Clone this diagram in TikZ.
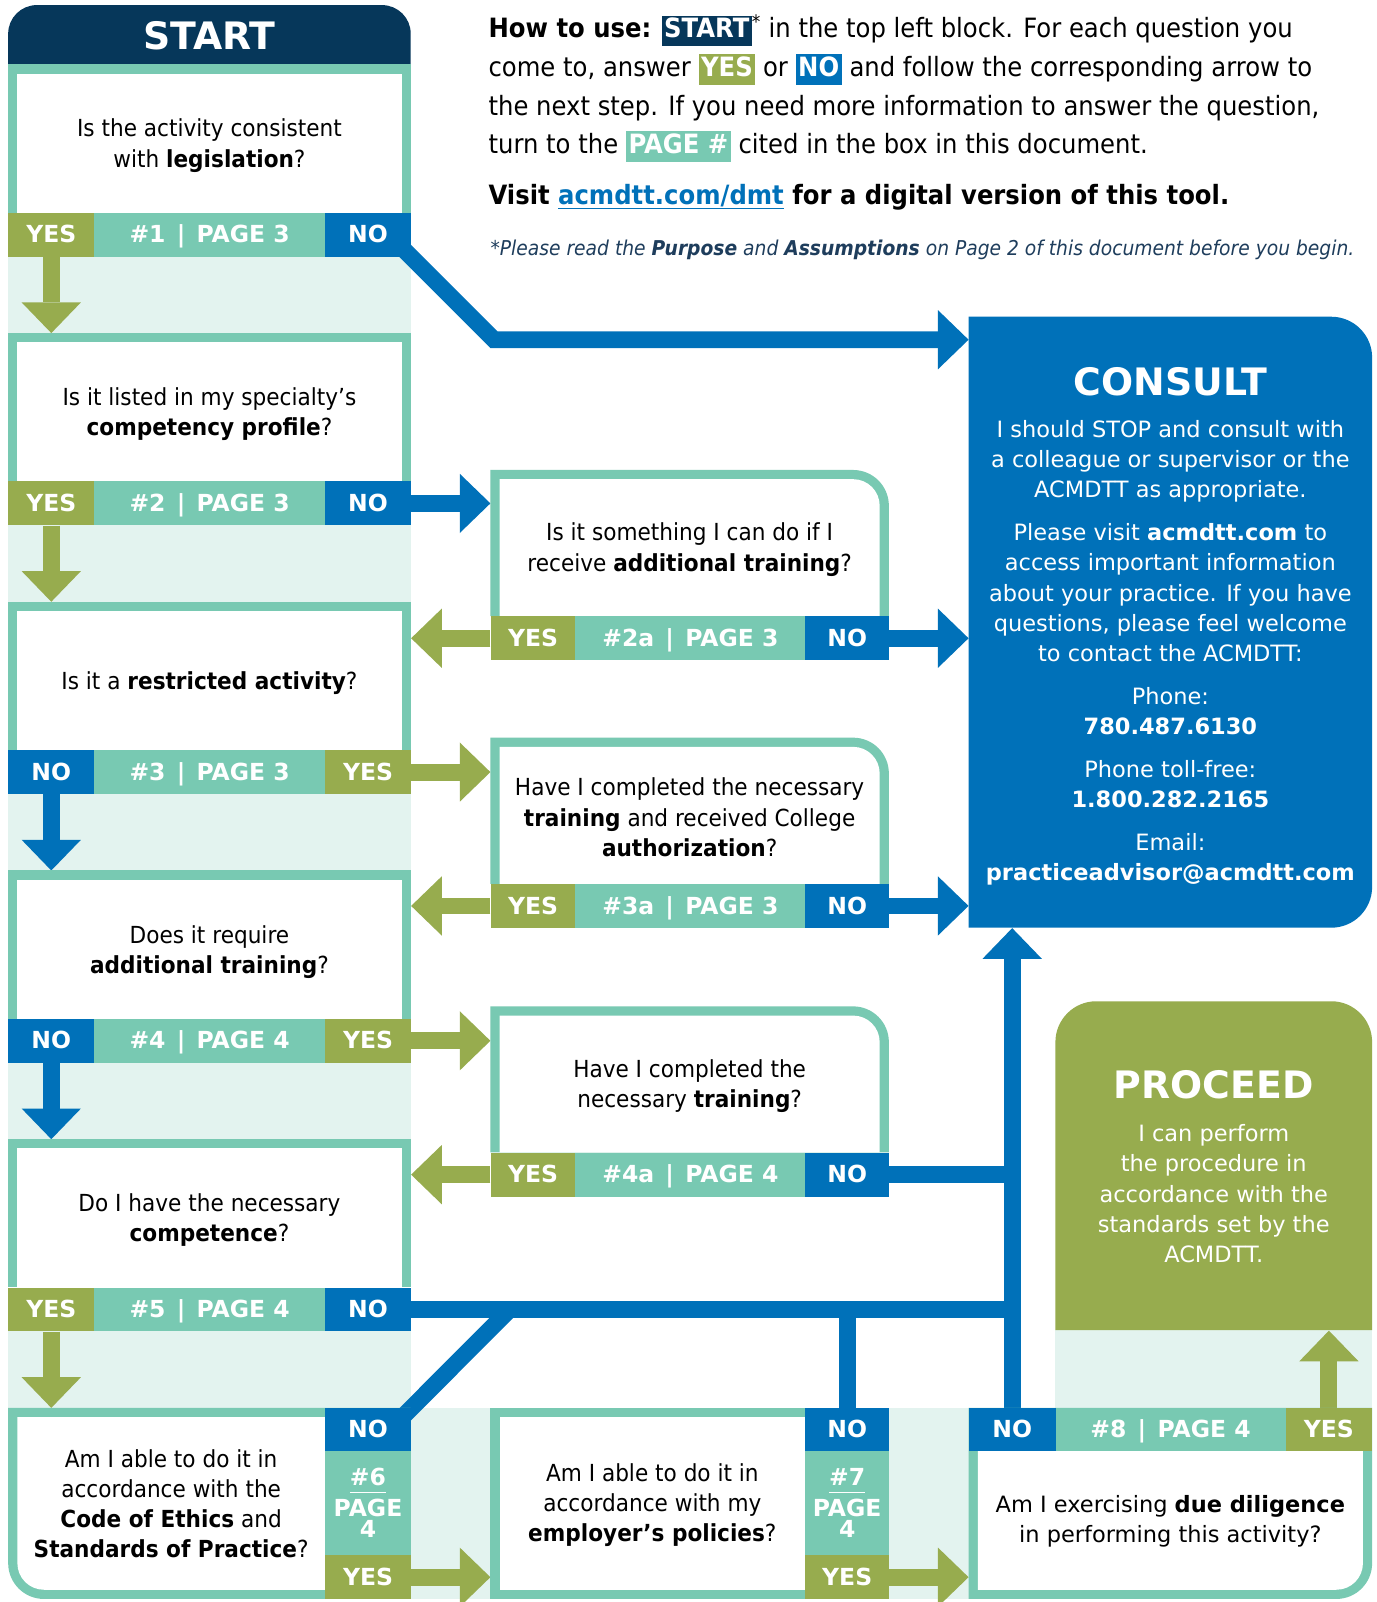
\documentclass[tikz,border=0pt]{standalone}
\usepackage{fontspec}
\setmainfont{DejaVu Sans}
\newfontfamily\qfont[FakeStretch=0.92]{DejaVu Sans}
\newfontfamily\hfont[FakeStretch=0.915]{DejaVu Sans}
\usetikzlibrary{arrows.meta}
\definecolor{cnavy}{HTML}{06375A}
\definecolor{cteal}{HTML}{78C9B2}
\definecolor{clight}{HTML}{E3F3EF}
\definecolor{cgreen}{HTML}{97AC4E}
\definecolor{cblue}{HTML}{0071B9}
\definecolor{cnote}{HTML}{1E3D5C}
\pgfdeclarelayer{back}
\pgfdeclarelayer{conn}
\pgfsetlayers{back,conn,main}
\newcommand\tagbox[2]{{\setlength\fboxsep{2.5pt}\colorbox{#1}{\textcolor{white}{\bfseries\vphantom{Ag}#2}}}}
\newcommand\lab[2]{#1\hspace{11pt}|\hspace{11pt}#2}
\tikzset{
 cellbase/.style={anchor=north west, inner sep=0pt, minimum height=43pt, text=white, font=\fontsize{23}{26}\selectfont\bfseries},
 cell/.style={cellbase, text height=18pt, text depth=2pt},
 frame/.style={anchor=north west, inner sep=0pt, draw=none},
 qtext/.style={align=center, font=\qfont\fontsize{23}{29.5}\selectfont, text=black},
 garr/.style={draw=cgreen, line width=16.5pt, -{Triangle[length=30pt,width=58pt,line width=0pt]}},
 barr/.style={draw=cblue, line width=16.5pt, -{Triangle[length=30pt,width=58pt,line width=0pt]}},
 bline/.style={draw=cblue, line width=16.5pt},
 wtext/.style={align=center, text=white, font=\fontsize{22}{29.7}\selectfont},
 ttl/.style={text=white, font=\fontsize{37}{40}\selectfont\bfseries},
 hline/.style={anchor=base west, inner sep=0pt, font=\hfont\fontsize{26}{30}\selectfont},
}
% left column question box: id, top, left colour, left text, label, right colour, right text, question
\newcommand\leftq[8]{%
  \node[frame, minimum width=394pt, minimum height=188pt] (#1f) at (8,#2) {};
  \fill[cteal] (8,#2) rectangle (402,#2+145);
  \fill[white] (17,#2+9) rectangle (393,#2+145);
  \node[cell, fill=#3, minimum width=84pt] (#1l) at (8,#2+145) {#4};
  \node[cell, fill=cteal, minimum width=226pt] (#1c) at (92,#2+145) {#5};
  \node[cell, fill=#6, minimum width=84pt] (#1r) at (318,#2+145) {#7};
  \node[qtext] (#1q) at (205,#2+79.5) {#8};
}
% middle column question box: id, top, label, question
\newcommand\midq[4]{%
  \node[frame, minimum width=390pt, minimum height=185pt] (#1f) at (480,#2) {};
  \fill[cteal] (480,#2+143) -- (480,#2) -- (835,#2) arc[start angle=-90,end angle=0,radius=35] -- (870,#2+143) -- cycle;
  \fill[white] (489,#2+143) -- (489,#2+9) -- (835,#2+9) arc[start angle=-90,end angle=0,radius=26] -- (861,#2+143) -- cycle;
  \node[cell, fill=cgreen, minimum width=83pt] (#1l) at (480,#2+143) {YES};
  \node[cell, fill=cteal, minimum width=225pt] (#1c) at (563,#2+143) {#3};
  \node[cell, fill=cblue, minimum width=82pt] (#1r) at (788,#2+143) {NO};
  \node[qtext] (#1q) at (675,#2+78) {#4};
}
\begin{document}
\begin{tikzpicture}[x=1pt,y=-1pt]
\useasboundingbox (0,0) rectangle (1347,1568);
\begin{pgfonlayer}{back}
\fill[white] (0,0) rectangle (1347,1568);
\foreach \t in {63,326,589,852,1115} \fill[clight] (8,\t+188) rectangle (402,\t+263);
\fill[clight] (402,1378) rectangle (948,1565);
\fill[clight] (1033,1302) rectangle (1343,1378);
\end{pgfonlayer}

% header
\fill[cnavy] (8,63) -- (8,33) arc[start angle=180,end angle=270,radius=28] -- (374,5) arc[start angle=270,end angle=360,radius=28] -- (402,63) -- cycle;
\node[ttl] (start) at (205,35) {START};

% left column
\leftq{b1}{63}{cgreen}{YES}{\lab{\#1}{PAGE 3}}{cblue}{NO}{Is the activity consistent\\with \textbf{legislation}?}
\leftq{b2}{326}{cgreen}{YES}{\lab{\#2}{PAGE 3}}{cblue}{NO}{Is it listed in my specialty’s\\\textbf{competency profile}?}
\leftq{b3}{589}{cblue}{NO}{\lab{\#3}{PAGE 3}}{cgreen}{YES}{Is it a \textbf{restricted activity}?}
\leftq{b4}{852}{cblue}{NO}{\lab{\#4}{PAGE 4}}{cgreen}{YES}{Does it require\\\textbf{additional training}?}
\leftq{b5}{1115}{cgreen}{YES}{\lab{\#5}{PAGE 4}}{cblue}{NO}{Do I have the necessary\\\textbf{competence}?}

% middle column
\midq{a2}{460}{\lab{\#2a}{PAGE 3}}{Is it something I can do if I\\receive \textbf{additional training}?}
\midq{a3}{722}{\lab{\#3a}{PAGE 3}}{Have I completed the necessary\\\textbf{training} and received College\\\textbf{authorization}?}
\midq{a4}{985}{\lab{\#4a}{PAGE 4}}{Have I completed the\\necessary \textbf{training}?}

% box 6
\node[frame, minimum width=394pt, minimum height=187pt] (b6f) at (8,1378) {};
\fill[cteal] (8,1378) -- (402,1378) -- (402,1565) -- (43,1565) arc[start angle=90,end angle=180,radius=35] -- cycle;
\fill[white] (17,1387) -- (318,1387) -- (318,1556) -- (43,1556) arc[start angle=90,end angle=180,radius=26] -- cycle;
\node[cell, fill=cblue, minimum width=84pt, minimum height=42pt] (c6n) at (318,1378) {NO};
\node[cellbase, fill=cteal, minimum width=84pt, minimum height=102pt, align=center] (c6p) at (318,1420) {\underline{\#6\vphantom{g}}\\[4pt]PAGE\\[-5pt]4};
\node[cell, fill=cgreen, minimum width=84pt, minimum height=43pt] (c6y) at (318,1522) {YES};
\node[qtext] (b6q) at (167.5,1472) {Am I able to do it in\\accordance with the\\\textbf{Code of Ethics} and\\\textbf{Standards of Practice}?};

% box 7
\node[frame, minimum width=390pt, minimum height=187pt] (f7) at (480,1378) {};
\fill[cteal] (480,1378) rectangle (870,1565);
\fill[white] (489,1387) rectangle (788,1556);
\node[cell, fill=cblue, minimum width=82pt, minimum height=42pt] (c7n) at (788,1378) {NO};
\node[cellbase, fill=cteal, minimum width=82pt, minimum height=102pt, align=center] (c7p) at (788,1420) {\underline{\#7\vphantom{g}}\\[4pt]PAGE\\[-5pt]4};
\node[cell, fill=cgreen, minimum width=82pt, minimum height=43pt] (c7y) at (788,1522) {YES};
\node[qtext] (b7q) at (638.5,1473) {Am I able to do it in\\accordance with my\\\textbf{employer’s policies}?};

% box 8
\node[frame, minimum width=395pt, minimum height=187pt] (f8) at (948,1378) {};
\fill[cteal] (948,1378) -- (1343,1378) -- (1343,1530) arc[start angle=0,end angle=90,radius=35] -- (948,1565) -- cycle;
\fill[white] (957,1420) -- (1334,1420) -- (1334,1530) arc[start angle=0,end angle=90,radius=26] -- (957,1556) -- cycle;
\node[cell, fill=cblue, minimum width=85pt, minimum height=42pt] (c8n) at (948,1378) {NO};
\node[cell, fill=cteal, minimum width=225pt, minimum height=42pt] (c8c) at (1033,1378) {\lab{\#8}{PAGE 4}};
\node[cell, fill=cgreen, minimum width=85pt, minimum height=42pt] (c8y) at (1258,1378) {YES};
\node[align=center, font=\fontsize{22}{29.7}\selectfont] (b8q) at (1145.5,1489) {Am I exercising \textbf{due diligence}\\in performing this activity?};

% consult
\node[frame, minimum width=395pt, minimum height=598pt] (consult) at (948,310) {};
\fill[cblue] (948,310) -- (1303,310) arc[start angle=-90,end angle=0,radius=40] -- (1343,868) arc[start angle=0,end angle=90,radius=40] -- (948,908) -- cycle;
\node[ttl] (ctitle) at (1145.5,374) {CONSULT};
\node[wtext] (cbody) at (1145.5,639) {I should STOP and consult with\\a colleague or supervisor or the\\ACMDTT as appropriate.\\[12pt]Please visit \textbf{acmdtt.com} to\\access important information\\about your practice. If you have\\questions, please feel welcome\\to contact the ACMDTT:\\[12pt]Phone:\\\textbf{780.487.6130}\\[12pt]Phone toll-free:\\\textbf{1.800.282.2165}\\[12pt]Email:\\\textbf{practiceadvisor@acmdtt.com}};

% proceed
\node[frame, minimum width=310pt, minimum height=322pt] (proceed) at (1033,980) {};
\fill[cgreen] (1033,1302) -- (1033,1020) arc[start angle=180,end angle=270,radius=40] -- (1303,980) arc[start angle=270,end angle=360,radius=40] -- (1343,1302) -- cycle;
\node[ttl] (ptitle) at (1188,1062) {PROCEED};
\node[wtext] (pbody) at (1188,1168.5) {I can perform\\the procedure in\\accordance with the\\standards set by the\\ACMDTT.};

% instructions
\node[hline] (h1) at (478,37) {\textbf{How to use:} \tagbox{cnavy}{START}\textsuperscript{*} in the top left block. For each question you};
\node[hline] (h2) at (478,75) {come to, answer \tagbox{cgreen}{YES} or \tagbox{cblue}{NO} and follow the corresponding arrow to};
\node[hline] (h3) at (478,113) {the next step. If you need more information to answer the question,};
\node[hline] (h4) at (478,150) {turn to the \tagbox{cteal}{PAGE \#} cited in the box in this document.};
\node[hline] (h5) at (478,200) {\textbf{Visit \textcolor{cblue}{\underline{acmdtt.com/dmt}} for a digital version of this tool.}};
\node[hline, font=\hfont\fontsize{20}{23}\selectfont\itshape, text=cnote] (h6) at (480,250) {*Please read the \textbf{Purpose} and \textbf{Assumptions} on Page 2 of this document before you begin.};

% connector bends
\coordinate (k1) at (483.5,332.5);
\coordinate (k6) at (499,1281.5);

\begin{pgfonlayer}{conn}
\draw[garr] (b1l.south) -- (b1l.south |- b2f.north);
\draw[garr] (b2l.south) -- (b2l.south |- b3f.north);
\draw[barr] (b3l.south) -- (b3l.south |- b4f.north);
\draw[barr] (b4l.south) -- (b4l.south |- b5f.north);
\draw[garr] (b5l.south) -- (b5l.south |- b6f.north);
\draw[barr] (b2r.east) -- (b2r.east -| a2f.west);
\draw[garr] (a2l.west) -- (a2l.west -| b3f.east);
\draw[barr] (a2r.east) -- (a2r.east -| consult.west);
\draw[garr] (b3r.east) -- (b3r.east -| a3f.west);
\draw[garr] (a3l.west) -- (a3l.west -| b4f.east);
\draw[barr] (a3r.east) -- (a3r.east -| consult.west);
\draw[garr] (b4r.east) -- (b4r.east -| a4f.west);
\draw[garr] (a4l.west) -- (a4l.west -| b5f.east);
\draw[bline] (a4r.center) -- (a4r.center -| c8n.center);
\draw[bline] (b5r.center) -- (b5r.center -| c8n.center);
\draw[bline] (c7n.center) -- (c7n.center |- b5r.center);
\draw[bline] ([xshift=21.5pt]c6n.center) -- (k6);
\draw[barr] (c8n.center) -- (c8n.center |- consult.south);
\draw[barr] ([xshift=20.5pt]b1r.center) -- (k1) -- (k1 -| consult.west);
\draw[garr] (c6y.east) -- (c6y.east -| f7.west);
\draw[garr] (c7y.east) -- (c7y.east -| f8.west);
\draw[garr] (c8y.north) -- (c8y.north |- proceed.south);
\end{pgfonlayer}
\end{tikzpicture}
\end{document}
